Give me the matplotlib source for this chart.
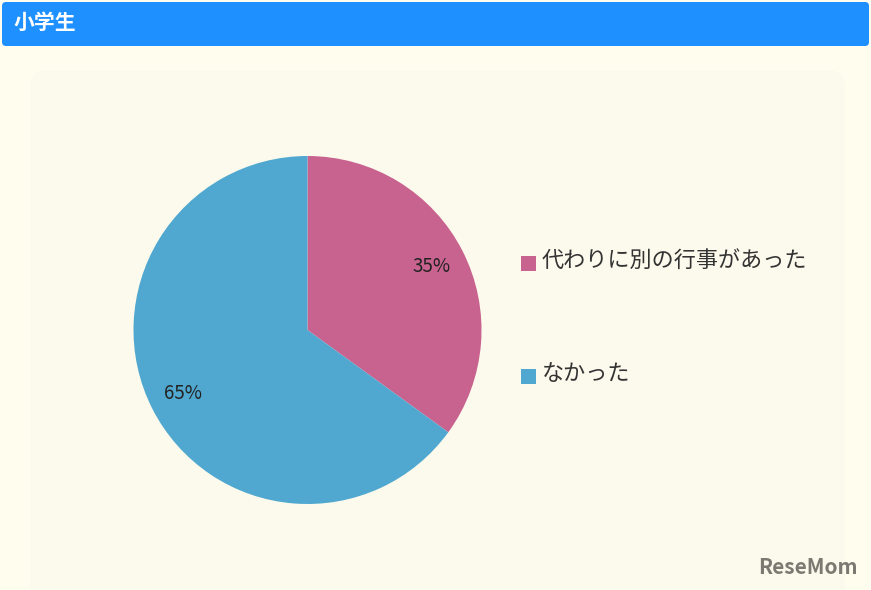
import matplotlib
matplotlib.use("Agg")
import matplotlib.pyplot as plt
from matplotlib.patches import FancyBboxPatch, Rectangle

plt.rcParams['font.family'] = ['Noto Sans CJK JP', 'DejaVu Sans']

title = "小学生"
categories = ["代わりに別の行事があった", "なかった"]
values = [35, 65]
colors = ["#c8628f", "#50a8d0"]

W, H = 871, 590
fig = plt.figure(figsize=(W / 100, H / 100), dpi=100)
fig.patch.set_facecolor("#fffdee")

bg = fig.add_axes([0, 0, 1, 1])
bg.set_xlim(0, W)
bg.set_ylim(H, 0)
bg.axis("off")

# header bar
bg.add_patch(FancyBboxPatch((2, 2), 867, 44, boxstyle="round,pad=0,rounding_size=4",
                            facecolor="#1e90ff", edgecolor="none"))
bg.text(14, 22, title, color="white", fontsize=15, fontweight="bold", va="center", ha="left")

# inner panel
bg.add_patch(FancyBboxPatch((30, 70), 815, 540, boxstyle="round,pad=0,rounding_size=18",
                            facecolor="#fcfaec", edgecolor="none"))

# legend
leg_y = [263, 376]
for i, (lab, y) in enumerate(zip(categories, leg_y)):
    bg.add_patch(Rectangle((521, y - 7), 15, 15, facecolor=colors[i], edgecolor="none"))
    bg.text(542, y - 2, lab, fontsize=15.9, color="#333333", va="center", ha="left")

# watermark
bg.text(858, 567, "ReseMom", fontsize=15, fontweight="bold", color="#7a7a72",
        ha="right", va="center")

# pie axes
cx, cy, r = 307.5, 330, 174
pie_ax = fig.add_axes([(cx - r) / W, 1 - (cy + r) / H, 2 * r / W, 2 * r / H])
wedges, texts, autotexts = pie_ax.pie(
    values, colors=colors, startangle=90, counterclock=False,
    autopct=lambda p: f"{p:.0f}%", pctdistance=0.8,
    wedgeprops=dict(linewidth=0),
    textprops=dict(fontsize=13.5, color="#222222"))
pie_ax.set_xlim(-1, 1)
pie_ax.set_ylim(-1, 1)
pie_ax.set_aspect("equal")
pie_ax.axis("off")

fig.savefig("out.png", dpi=100, facecolor=fig.get_facecolor())
